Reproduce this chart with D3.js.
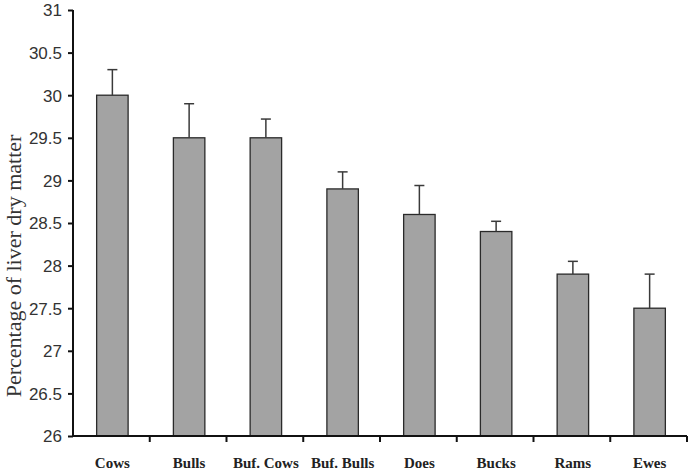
<!DOCTYPE html>
<html>
<head>
<meta charset="UTF-8">
<script src="https://d3js.org/d3.v7.min.js"></script>
<style>
  body { margin: 0; background: #fff; }
  .ytick text { font-family: Arial, "Liberation Sans", sans-serif; font-size: 17px; fill: #333; }
  .xlab { font-family: "Times New Roman", "Liberation Serif", serif; font-size: 15px; fill: #222; font-weight: bold; }
</style>
</head>
<body>
<svg width="690" height="476"></svg>
<script>
// animal groups and liver dry matter (%) with upper error
var categories = ['Cows', 'Bulls', 'Buf. Cows', 'Buf. Bulls', 'Does', 'Bucks', 'Rams', 'Ewes'];
var means = [30.0, 29.5, 29.5, 28.9, 28.6, 28.4, 27.9, 27.5];
var errors = [0.3, 0.4, 0.22, 0.2, 0.34, 0.12, 0.15, 0.4];
var yTicks = [26, 26.5, 27, 27.5, 28, 28.5, 29, 29.5, 30, 30.5, 31];

var svg = d3.select('svg');
var mLeft = 73, mRight = 687, mTop = 10, mBottom = 436;

var x = d3.scaleBand().domain(categories).range([mLeft, mRight]).paddingInner(0.59).paddingOuter(0.295);
var xBoundary = d3.scaleLinear().domain([0, categories.length]).range([mLeft, mRight]);
var y = d3.scaleLinear().domain([26, 31]).range([mBottom, mTop]);

// bars
svg.selectAll('.bar').data(categories).enter().append('rect')
    .attr('class', 'bar')
    .attr('x', function(d) { return x(d) + 1; })
    .attr('y', function(d, i) { return y(means[i]); })
    .attr('width', x.bandwidth())
    .attr('height', function(d, i) { return y(26) - y(means[i]); })
    .attr('fill', '#a3a3a3')
    .attr('stroke', '#2a2a2a')
    .attr('stroke-width', 1.3);

// error bars (upper only)
var eb = svg.selectAll('.err').data(categories).enter().append('g').attr('class', 'err')
    .attr('stroke', '#3a3a3a').attr('stroke-width', 1.5);
eb.append('line')
    .attr('x1', function(d) { return x(d) + 1 + x.bandwidth() / 2; })
    .attr('x2', function(d) { return x(d) + 1 + x.bandwidth() / 2; })
    .attr('y1', function(d, i) { return y(means[i]); })
    .attr('y2', function(d, i) { return y(means[i] + errors[i]); });
eb.append('line')
    .attr('x1', function(d) { return x(d) + 1 + x.bandwidth() / 2 - 5; })
    .attr('x2', function(d) { return x(d) + 1 + x.bandwidth() / 2 + 5; })
    .attr('y1', function(d, i) { return y(means[i] + errors[i]); })
    .attr('y2', function(d, i) { return y(means[i] + errors[i]); });

// y axis
var yAxis = d3.axisLeft(y).tickValues(yTicks).tickSize(5).tickPadding(6).tickFormat(d3.format('~g'));
var gy = svg.append('g').attr('transform', 'translate(' + mLeft + ',0)').call(yAxis);
gy.select('.domain').attr('stroke', '#111').attr('stroke-width', 2).attr('d', 'M0,' + mTop + 'V' + mBottom);
gy.selectAll('.tick').attr('class', 'tick ytick');
gy.selectAll('.tick line').attr('stroke', '#111').attr('stroke-width', 2);
gy.selectAll('.tick text').attr('dy', '0.35em');
gy.attr('font-family', null).attr('font-size', null);

// x axis
var gx = svg.append('g');
gx.append('line').attr('x1', mLeft).attr('x2', mRight).attr('y1', mBottom).attr('y2', mBottom)
    .attr('stroke', '#111').attr('stroke-width', 2);
gx.selectAll('.xt').data(d3.range(1, categories.length + 1)).enter().append('line')
    .attr('x1', function(d) { return xBoundary(d); })
    .attr('x2', function(d) { return xBoundary(d); })
    .attr('y1', mBottom).attr('y2', mBottom + 6)
    .attr('stroke', '#111').attr('stroke-width', 2);
gx.selectAll('.xlab').data(categories).enter().append('text')
    .attr('class', 'xlab')
    .attr('x', function(d) { return x(d) + 1 + x.bandwidth() / 2; })
    .attr('y', 468)
    .attr('text-anchor', 'middle')
    .text(function(d) { return d; });

// y title
svg.append('text')
    .attr('transform', 'translate(21,266) rotate(-90)')
    .attr('text-anchor', 'middle')
    .attr('font-family', '"Times New Roman", "Liberation Serif", serif')
    .attr('font-size', 22)
    .attr('fill', '#333')
    .text('Percentage of liver dry matter');
</script>
</body>
</html>
